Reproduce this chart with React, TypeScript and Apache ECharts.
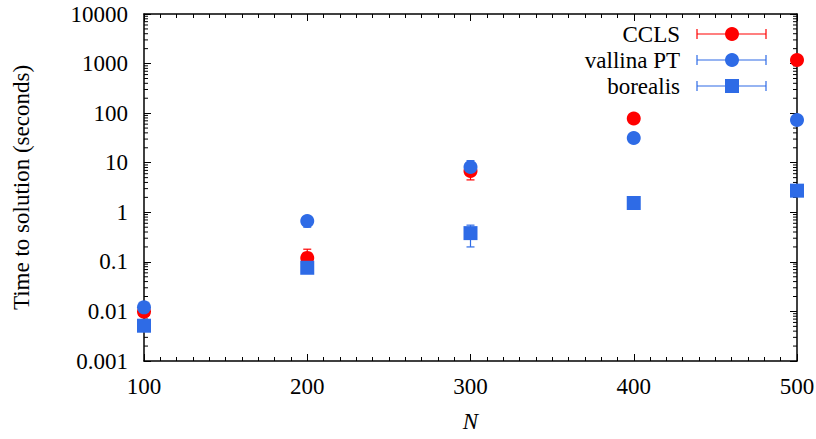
import React, { useEffect, useRef } from 'react';
import * as echarts from 'echarts';

// ---- data ----
const N = [100, 200, 300, 400, 500];
const seriesNames = ['CCLS', 'vallina PT', 'borealis'];

const cclsTime = [0.0099, 0.12, 6.8, 78, 1180];
const cclsLow = [0.0093, 0.1, 4.5, 74, 1120];
const cclsHigh = [0.0105, 0.18, 7.6, 82, 1240];

const ptTime = [0.0121, 0.667, 8.2, 31.6, 72.8];
const ptLow = [0.0114, 0.5, 7.0, 30.0, 69.0];
const ptHigh = [0.0128, 0.72, 11.0, 33.2, 76.0];

const borTime = [0.00515, 0.076, 0.38, 1.54, 2.73];
const borLow = [0.0049, 0.072, 0.2, 1.47, 2.6];
const borHigh = [0.0054, 0.08, 0.55, 1.62, 2.86];

const xTicks = [100, 200, 300, 400, 500];
const yTickLabels = ['0.001', '0.01', '0.1', '1', '10', '100', '1000', '10000'];
const yMin = 0.001;
const yMax = 10000;

const RED = '#ff0000';
const BLUE = '#2e6be6';
const FONT = 'Liberation Serif';

// minor log tick positions (2..9 x 10^k), axis decoration
const yMinorTicks: number[][] = [];
for (let e = -3; e <= 3; e++) {
  for (let m = 2; m <= 9; m++) {
    yMinorTicks.push([xTicks[0], m * Math.pow(10, e)]);
  }
}

const errRender = (color: string) => (params: any, api: any) => {
  const x = api.value(0);
  const lo = api.value(1);
  const hi = api.value(2);
  const a = api.coord([x, lo]);
  const b = api.coord([x, hi]);
  const w = 4;
  const style = { stroke: color, lineWidth: 1.2 };
  return {
    type: 'group',
    children: [
      { type: 'line', shape: { x1: a[0], y1: a[1], x2: b[0], y2: b[1] }, style },
      { type: 'line', shape: { x1: a[0] - w, y1: a[1], x2: a[0] + w, y2: a[1] }, style },
      { type: 'line', shape: { x1: b[0] - w, y1: b[1], x2: b[0] + w, y2: b[1] }, style },
    ],
  };
};

const minorRender = (params: any, api: any) => {
  const v = api.value(1);
  const l = api.coord([xTicks[0], v]);
  const r = api.coord([xTicks[xTicks.length - 1], v]);
  const style = { stroke: '#000', lineWidth: 1 };
  return {
    type: 'group',
    children: [
      { type: 'line', shape: { x1: l[0], y1: l[1], x2: l[0] + 4, y2: l[1] }, style },
      { type: 'line', shape: { x1: r[0] - 4, y1: r[1], x2: r[0], y2: r[1] }, style },
    ],
  };
};

const App = () => {
  const ref = useRef<HTMLDivElement>(null);
  useEffect(() => {
    if (!ref.current) return;
    const chart = echarts.init(ref.current, null, { renderer: 'svg' });

    const axisLine = { show: true, onZero: false, lineStyle: { color: '#000', width: 1.5 } };
    const xBase = {
      type: 'value',
      min: 100,
      max: 500,
      interval: 100,
      axisLine,
      axisTick: { show: true, inside: true, length: 7, lineStyle: { color: '#000', width: 1 } },
      minorTick: { show: true, splitNumber: 10, length: 4, lineStyle: { color: '#000', width: 1 } },
      splitLine: { show: false },
      minorSplitLine: { show: false },
    };
    const yBase = {
      type: 'log',
      logBase: 10,
      min: yMin,
      max: yMax,
      axisLine,
      axisTick: { show: true, inside: true, length: 7, lineStyle: { color: '#000', width: 1 } },
      splitLine: { show: false },
    };

    const legendRows = [
      { name: seriesNames[0], color: RED, sym: 'circle', y: 34 },
      { name: seriesNames[1], color: BLUE, sym: 'circle', y: 60 },
      { name: seriesNames[2], color: BLUE, sym: 'rect', y: 86 },
    ];
    const graphic: any[] = [];
    legendRows.forEach((r) => {
      const ls = { stroke: r.color, lineWidth: 1.2 };
      graphic.push({
        type: 'text',
        x: 680,
        y: r.y,
        style: {
          text: r.name,
          font: `23px "${FONT}"`,
          fill: '#000',
          textAlign: 'right',
          textVerticalAlign: 'middle',
        },
      });
      graphic.push({ type: 'line', shape: { x1: 697, y1: r.y, x2: 766, y2: r.y }, style: ls });
      graphic.push({ type: 'line', shape: { x1: 697, y1: r.y - 5, x2: 697, y2: r.y + 5 }, style: ls });
      graphic.push({ type: 'line', shape: { x1: 766, y1: r.y - 5, x2: 766, y2: r.y + 5 }, style: ls });
      if (r.sym === 'circle') {
        graphic.push({ type: 'circle', shape: { cx: 732, cy: r.y, r: 7 }, style: { fill: r.color } });
      } else {
        graphic.push({ type: 'rect', shape: { x: 725, y: r.y - 7, width: 14, height: 14 }, style: { fill: r.color } });
      }
    });

    const mk = (vals: number[]) => N.map((n, i) => [n, vals[i]]);
    const mkErr = (lo: number[], hi: number[]) => N.map((n, i) => [n, lo[i], hi[i]]);

    chart.setOption({
      animation: false,
      grid: { left: 144, right: 19, top: 14, bottom: 78, outerBoundsMode: 'none' },
      xAxis: [
        {
          ...xBase,
          position: 'bottom',
          name: 'N',
          nameLocation: 'middle',
          nameGap: 49,
          nameTextStyle: { fontFamily: FONT, fontSize: 23, fontStyle: 'italic', color: '#000' },
          axisLabel: { show: true, margin: 14, fontFamily: FONT, fontSize: 23, color: '#000' },
        },
        { ...xBase, position: 'top', axisLabel: { show: false } },
      ],
      yAxis: [
        {
          ...yBase,
          position: 'left',
          name: 'Time to solution (seconds)',
          nameLocation: 'middle',
          nameGap: 111,
          nameTextStyle: { fontFamily: FONT, fontSize: 23, color: '#000' },
          axisLabel: {
            show: true,
            margin: 16,
            fontFamily: FONT,
            fontSize: 23,
            color: '#000',
            formatter: (v: number) => yTickLabels[Math.round(Math.log10(v)) + 3],
          },
        },
        { ...yBase, position: 'right', axisLabel: { show: false } },
      ],
      graphic,
      series: [
        {
          type: 'custom',
          name: 'minor',
          silent: true,
          renderItem: minorRender,
          data: yMinorTicks,
          encode: { x: 0, y: 1 },
          clip: false,
          z: 1,
        },
        {
          type: 'custom',
          name: seriesNames[0] + ' err',
          renderItem: errRender(RED),
          data: mkErr(cclsLow, cclsHigh),
          encode: { x: 0, y: [1, 2] },
          clip: false,
        },
        {
          type: 'scatter',
          name: seriesNames[0],
          symbol: 'circle',
          symbolSize: 14,
          itemStyle: { color: RED, opacity: 1 },
          data: mk(cclsTime),
          clip: false,
        },
        {
          type: 'custom',
          name: seriesNames[1] + ' err',
          renderItem: errRender(BLUE),
          data: mkErr(ptLow, ptHigh),
          encode: { x: 0, y: [1, 2] },
          clip: false,
        },
        {
          type: 'scatter',
          name: seriesNames[1],
          symbol: 'circle',
          symbolSize: 14,
          itemStyle: { color: BLUE, opacity: 1 },
          data: mk(ptTime),
          clip: false,
        },
        {
          type: 'custom',
          name: seriesNames[2] + ' err',
          renderItem: errRender(BLUE),
          data: mkErr(borLow, borHigh),
          encode: { x: 0, y: [1, 2] },
          clip: false,
        },
        {
          type: 'scatter',
          name: seriesNames[2],
          symbol: 'rect',
          symbolSize: 14,
          itemStyle: { color: BLUE, opacity: 1 },
          data: mk(borTime),
          clip: false,
        },
      ],
    });
    return () => chart.dispose();
  }, []);
  return (
    <div
      ref={ref}
      style={{ position: 'absolute', left: 0, top: 0, width: 816, height: 439, background: '#fff' }}
    />
  );
};

export default App;
